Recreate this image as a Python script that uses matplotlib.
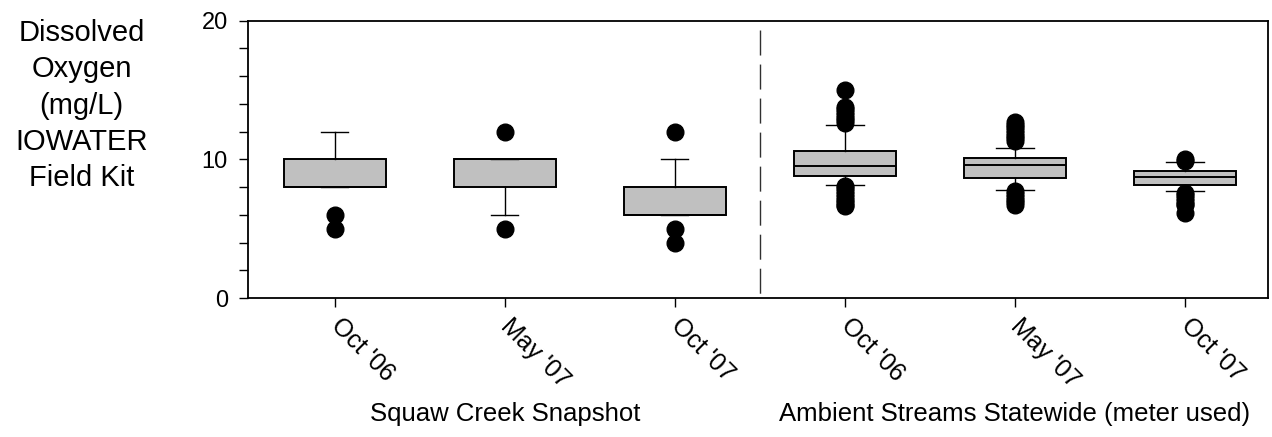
import matplotlib
matplotlib.use("Agg")
import matplotlib.pyplot as plt
import matplotlib.transforms as mtransforms

plt.rcParams['font.family'] = ['Liberation Sans', 'DejaVu Sans']

# Box plot summaries (mg/L)
labels = ["Oct '06", "May '07", "Oct '07", "Oct '06", "May '07", "Oct '07"]
q1 = [8, 8, 6, 8.78, 8.68, 8.18]
med = [8, 10, 6, 9.52, 9.6, 8.7]
q3 = [10, 10, 8, 10.6, 10.1, 9.18]
whislo = [8, 6, 6, 8.13, 7.82, 7.72]
whishi = [12, 10, 10, 12.5, 10.82, 9.78]
outliers = [
    [6, 5],
    [12, 5],
    [12, 5, 4],
    [15.0, 13.8, 13.6, 13.4, 13.2, 13.0, 12.8, 12.6,
     8.1, 7.9, 7.7, 7.5, 7.3, 7.1, 6.9, 6.7, 6.6],
    [12.7, 12.5, 12.3, 12.1, 11.9, 11.7, 11.5, 11.3,
     7.7, 7.5, 7.3, 7.1, 6.9, 6.7],
    [10.05, 9.9,
     7.6, 7.4, 7.2, 7.0, 6.8, 6.7, 6.1],
]
group_names = ["Squaw Creek Snapshot", "Ambient Streams Statewide (meter used)"]

stats = []
for i in range(len(labels)):
    stats.append(dict(q1=q1[i], med=med[i], q3=q3[i], whislo=whislo[i],
                      whishi=whishi[i], fliers=outliers[i], label=labels[i]))

fig = plt.figure(figsize=(12.72, 4.37), dpi=100)
ax = fig.add_axes([0.195, 0.318, 0.802, 0.635])

positions = [1, 2, 3, 4, 5, 6]
ax.bxp(stats, positions=positions, widths=0.6, patch_artist=True,
       capwidths=[0.16, 0.16, 0.16, 0.22, 0.22, 0.22],
       boxprops=dict(facecolor='#c0c0c0', edgecolor='black', linewidth=1.4),
       medianprops=dict(color='black', linewidth=1.4),
       whiskerprops=dict(color='black', linewidth=1.0),
       capprops=dict(color='black', linewidth=1.0),
       flierprops=dict(marker='o', markerfacecolor='black', markeredgecolor='black',
                       markersize=12, linestyle='none'))

# divider between the two data sets, drawn top-down so it starts with a gap
ax.plot([3.5, 3.5], [20, 0], color='#303030', linewidth=1.0,
        linestyle=(18, (18, 6.5)))

ax.set_xlim(0.49, 6.49)
ax.set_ylim(0, 20)
ax.set_yticks([0, 10, 20])
ax.set_yticks(range(0, 21, 2), minor=True)
ax.tick_params(axis='y', which='both', direction='out', length=6.5, width=1,
               labelsize=17, pad=8)
ax.tick_params(axis='x', direction='out', length=6.5, width=1, labelsize=18, pad=11)
ax.set_xticks(positions)
ax.set_xticklabels(labels, rotation=-45, ha='left', va='center',
                   rotation_mode='anchor')
for s in ax.spines.values():
    s.set_linewidth(1.3)

# group labels under the tick labels
trans = mtransforms.blended_transform_factory(ax.transData, fig.transFigure)
ax.text(2, 0.036, group_names[0], transform=trans, ha='center', va='baseline',
        fontsize=18.5)
ax.text(5, 0.036, group_names[1], transform=trans, ha='center', va='baseline',
        fontsize=18.5)

fig.text(0.064, 0.957, "Dissolved\nOxygen\n(mg/L)\nIOWATER\nField Kit",
         ha='center', va='top', multialignment='center', fontsize=21,
         linespacing=1.38)

fig.savefig("out.png", dpi=100)
